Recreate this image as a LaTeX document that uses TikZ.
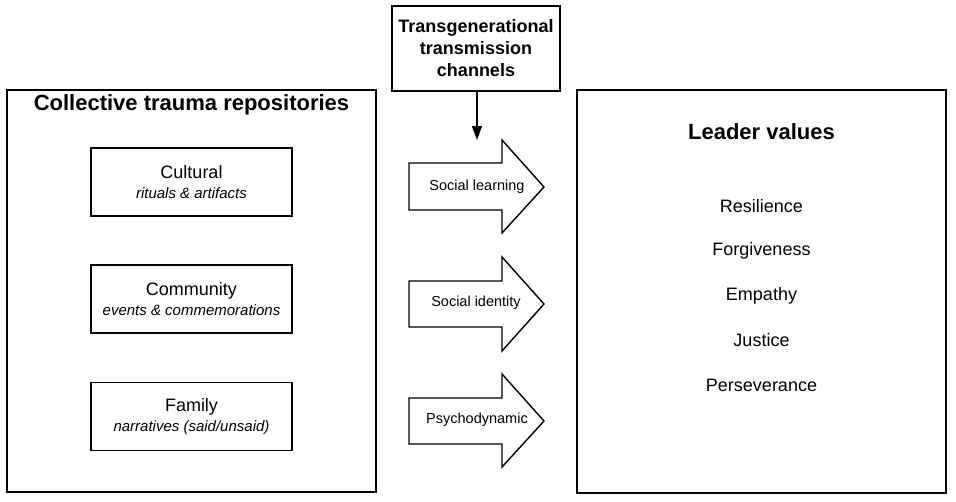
\documentclass[tikz,border=0pt]{standalone}
\usepackage{fontspec}
\setmainfont{Liberation Sans}
\usetikzlibrary{arrows.meta}
\begin{document}
\begin{tikzpicture}[x=1pt,y=-1pt,
  frame/.style={draw, line width=1.4pt, inner sep=0pt},
  titletext/.style={font=\fontsize{22}{26}\selectfont\bfseries},
  subtitle/.style={font=\fontsize{18}{22}\selectfont\bfseries, align=center},
  repobox/.style={frame, minimum width=201pt, minimum height=68pt, align=center, font=\fontsize{15}{20}\selectfont},
  chanshape/.style={draw, line width=1.4pt, fill=white},
  chantext/.style={font=\fontsize{14.5}{17}\selectfont},
  valuetext/.style={font=\fontsize{18}{22}\selectfont},
  downarrow/.style={draw, line width=1.4pt, -{Triangle[width=10pt,length=14pt]}}
]
\useasboundingbox (0,0) rectangle (956,501);
% left frame
\node[frame, minimum width=369pt, minimum height=402pt] (left) at (191.5,291) {};
\node[titletext] (lefttitle) at (191.5,105) {Collective trauma repositories};
\node[repobox] (cultural) at (191.5,182) {{\fontsize{18}{20}\selectfont Cultural}\\{\itshape rituals \& artifacts}};
\node[repobox] (community) at (191.5,299) {{\fontsize{18}{20}\selectfont Community}\\{\itshape events \& commemorations}};
\node[repobox] (family) at (191.5,416.5) {{\fontsize{18}{20}\selectfont Family}\\{\itshape narratives (said/unsaid)}};
% right frame
\node[frame, minimum width=369pt, minimum height=403pt] (right) at (761.5,291.5) {};
\node[titletext] (righttitle) at (761.5,132) {Leader values};
\node[valuetext] (v1) at (761.5,206) {Resilience};
\node[valuetext] (v2) at (761.5,251) {Forgiveness};
\node[valuetext] (v3) at (761.5,296) {Empathy};
\node[valuetext] (v4) at (761.5,340) {Justice};
\node[valuetext] (v5) at (761.5,385) {Perseverance};
% top box
\node[frame, minimum width=168pt, minimum height=85pt, subtitle] (top) at (476,48.5) {Transgenerational\\transmission\\channels};
\coordinate (toptip) at (477,140);
\draw[downarrow] (top.south -| toptip) -- (toptip);
% channel block arrows
\draw[chanshape] (409,163) -- (502,163) -- (502,140) -- (544,187) -- (502,233) -- (502,210) -- (409,210) -- cycle;
\node[chantext] (sl) at (477,187) {Social learning};
\draw[chanshape] (409,281) -- (502,281) -- (502,257) -- (544,304) -- (502,351) -- (502,327) -- (409,327) -- cycle;
\node[chantext] (si) at (476,303) {Social identity};
\draw[chanshape] (409,398) -- (502,398) -- (502,374) -- (544,421) -- (502,467) -- (502,444) -- (409,444) -- cycle;
\node[chantext] (pd) at (477,420) {Psychodynamic};
\end{tikzpicture}
\end{document}
